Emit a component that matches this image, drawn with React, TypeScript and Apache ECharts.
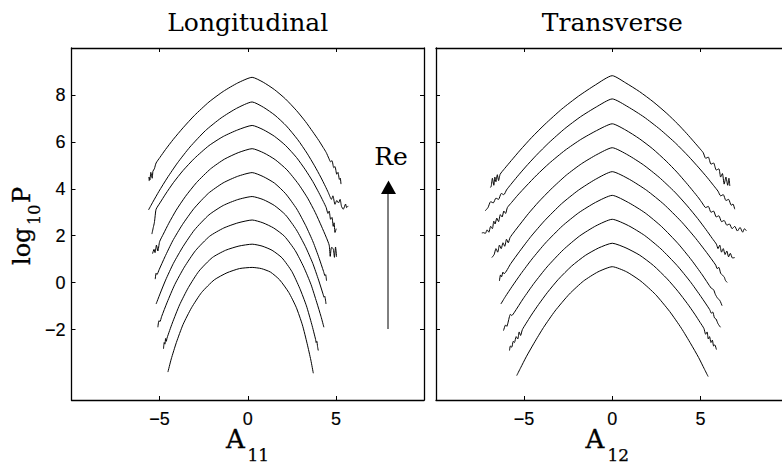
import React, { useEffect, useRef } from "react";
import * as echarts from "echarts";

type Pt = [number, number];

// Panel titles and axis ticks
const panelTitles = ["Longitudinal", "Transverse"];
const xTickValues = [-5, 0, 5];
const yTickValues = [-2, 0, 2, 4, 6, 8];
const xRange: [number, number] = [-10, 10];
const yRange: [number, number] = [-5, 10];

// Longitudinal gradient PDFs, log10 P, each Re shifted up by one decade
const long0: Pt[] = [
  [-4.53, -3.81], [-4.34, -3.25], [-4.05, -2.55], [-3.67, -1.78], [-3.19, -1.07], [-2.62, -0.42],
  [-1.9, 0.12], [-1.18, 0.42], [-0.47, 0.6], [0.25, 0.65], [0.77, 0.6], [1.29, 0.45], [1.81, 0.12],
  [2.33, -0.42], [2.75, -1.05], [3.1, -1.8], [3.37, -2.6], [3.58, -3.3], [3.72, -3.86],
];
const long1: Pt[] = [
  [-4.78, -2.82], [-4.74, -2.55], [-4.7, -2.62], [-4.66, -2.38], [-4.62, -2.5], [-4.58, -2.36],
  [-4.28, -1.72], [-3.87, -0.95], [-3.37, -0.21], [-2.77, 0.49], [-2.01, 1.07], [-1.26, 1.38],
  [-0.5, 1.56], [0.25, 1.64], [0.81, 1.56], [1.38, 1.38], [1.94, 1.06], [2.5, 0.48], [2.95, -0.24],
  [3.33, -0.99], [3.63, -1.77], [3.85, -2.42], [3.88, -2.55], [3.92, -2.5], [3.96, -2.72], [4.0, -2.89],
];
const long2: Pt[] = [
  [-5.1, -1.9], [-5.04, -1.62], [-4.98, -1.66], [-4.89, -1.45], [-4.57, -0.83], [-4.14, -0.08],
  [-3.6, 0.66], [-2.96, 1.37], [-2.16, 1.98], [-1.36, 2.33], [-0.55, 2.55], [0.25, 2.67], [0.86, 2.55],
  [1.47, 2.33], [2.08, 1.98], [2.69, 1.37], [3.18, 0.66], [3.59, -0.08], [3.91, -0.83], [4.16, -1.45],
  [4.32, -1.9],
];
const long3: Pt[] = [
  [-5.2, -0.91], [-4.98, -0.48], [-4.66, 0.11], [-4.22, 0.82], [-3.67, 1.54], [-3.02, 2.25],
  [-2.2, 2.89], [-1.39, 3.29], [-0.57, 3.54], [0.25, 3.67], [0.88, 3.54], [1.51, 3.29], [2.14, 2.89],
  [2.76, 2.25], [3.27, 1.54], [3.69, 0.82], [4.02, 0.11], [4.27, -0.48], [4.33, -0.62], [4.37, -0.58],
  [4.44, -0.91],
];
const long4: Pt[] = [
  [-5.25, 0.15], [-5.2, 0.4], [-5.15, 0.35], [-5.03, 0.55], [-4.7, 1.1], [-4.26, 1.78], [-3.71, 2.47],
  [-3.05, 3.16], [-2.23, 3.81], [-1.4, 4.25], [-0.58, 4.53], [0.25, 4.69], [0.88, 4.52], [1.52, 4.24],
  [2.15, 3.79], [2.78, 3.14], [3.29, 2.43], [3.71, 1.73], [4.05, 1.04], [4.3, 0.48], [4.38, 0.3],
  [4.42, 0.34], [4.47, 0.08],
];
const long5: Pt[] = [
  [-5.4, 1.24], [-5.32, 1.42], [-5.26, 1.28], [-5.18, 1.6], [-5.1, 1.35], [-5.0, 1.75], [-4.79, 2.07],
  [-4.48, 2.53], [-4.06, 3.09], [-3.53, 3.68], [-2.9, 4.27], [-2.11, 4.85], [-1.33, 5.26], [-0.54, 5.54],
  [0.25, 5.71], [0.91, 5.53], [1.56, 5.24], [2.22, 4.81], [2.87, 4.21], [3.4, 3.6], [3.83, 2.99],
  [4.18, 2.41], [4.45, 1.94], [4.62, 1.6], [4.68, 1.12], [4.75, 1.5], [4.85, 1.45], [4.92, 1.08],
  [4.98, 1.52], [5.04, 1.1],
];
const long6: Pt[] = [
  [-5.44, 2.07], [-5.36, 2.35], [-5.3, 2.55], [-5.26, 2.8], [-5.2, 3.13], [-4.98, 3.4], [-4.66, 3.78],
  [-4.22, 4.26], [-3.67, 4.78], [-3.02, 5.3], [-2.2, 5.84], [-1.39, 6.23], [-0.57, 6.51], [0.25, 6.7],
  [0.88, 6.52], [1.51, 6.24], [2.14, 5.85], [2.77, 5.33], [3.27, 4.81], [3.69, 4.31], [4.03, 3.84],
  [4.28, 3.47], [4.45, 3.2], [4.55, 2.95], [4.62, 3.05], [4.7, 2.7], [4.78, 2.78], [4.85, 2.4],
  [4.9, 2.55], [4.95, 2.14], [5.02, 2.3],
];
const long7: Pt[] = [
  [-5.63, 3.1], [-5.39, 3.43], [-5.04, 3.89], [-4.57, 4.46], [-3.98, 5.11], [-3.28, 5.78], [-2.4, 6.48],
  [-1.51, 7.02], [-0.63, 7.43], [0.25, 7.7], [0.9, 7.47], [1.55, 7.13], [2.19, 6.68], [2.84, 6.09],
  [3.36, 5.52], [3.79, 4.98], [4.14, 4.5], [4.4, 4.11], [4.57, 3.84], [4.75, 3.55], [4.83, 3.7],
  [4.95, 3.34], [5.05, 3.5], [5.15, 3.4], [5.24, 3.55], [5.32, 3.25], [5.42, 3.13], [5.55, 3.35],
  [5.61, 3.2], [5.7, 3.27],
];
const long8: Pt[] = [
  [-5.59, 4.33], [-5.6, 4.5], [-5.55, 4.38], [-5.5, 4.7], [-5.42, 4.45], [-5.38, 4.75], [-5.3, 4.85],
  [-5.2, 5.1], [-4.98, 5.34], [-4.66, 5.68], [-4.22, 6.11], [-3.67, 6.6], [-3.02, 7.13], [-2.2, 7.7],
  [-1.39, 8.15], [-0.57, 8.51], [0.25, 8.75], [0.88, 8.54], [1.51, 8.23], [2.14, 7.83], [2.77, 7.33],
  [3.27, 6.87], [3.69, 6.43], [4.03, 6.06], [4.28, 5.76], [4.45, 5.55], [4.6, 5.3], [4.7, 5.15],
  [4.78, 5.2], [4.88, 4.9], [4.95, 4.95], [5.05, 4.62], [5.12, 4.7], [5.2, 4.4], [5.25, 4.45], [5.29, 4.2],
];

// Transverse gradient PDFs, same offsets
const trans0: Pt[] = [
  [-5.42, -3.96], [-5.2, -3.63], [-4.88, -3.16], [-4.44, -2.58], [-3.9, -1.91], [-3.25, -1.21],
  [-2.44, -0.49], [-1.63, 0.07], [-0.81, 0.46], [0, 0.68], [0.82, 0.46], [1.63, 0.06], [2.45, -0.5],
  [3.26, -1.23], [3.92, -1.94], [4.46, -2.61], [4.9, -3.19], [5.22, -3.67], [5.44, -4.0],
];
const trans1: Pt[] = [
  [-5.83, -2.89], [-5.78, -2.7], [-5.7, -2.75], [-5.62, -2.5], [-5.55, -2.55], [-5.45, -2.3],
  [-5.36, -2.4], [-5.28, -2.1], [-5.2, -2.25], [-5.1, -2.0], [-4.9, -1.75], [-4.59, -1.38],
  [-4.18, -0.93], [-3.67, -0.41], [-3.06, 0.14], [-2.3, 0.71], [-1.53, 1.16], [-0.77, 1.48], [0, 1.68],
  [0.78, 1.48], [1.56, 1.17], [2.34, 0.73], [3.12, 0.16], [3.74, -0.38], [4.26, -0.89], [4.68, -1.34],
  [4.99, -1.7], [5.2, -1.95], [5.3, -2.2], [5.38, -2.1], [5.45, -2.4], [5.52, -2.3], [5.6, -2.55],
  [5.68, -2.45], [5.75, -2.7], [5.82, -2.65], [5.91, -2.85],
];
const trans2: Pt[] = [
  [-6.17, -2.04], [-6.05, -1.8], [-5.98, -1.86], [-5.92, -1.72], [-5.78, -1.35], [-5.7, -1.4],
  [-5.55, -1.26], [-5.06, -0.69], [-4.44, -0.03], [-3.7, 0.67], [-2.78, 1.4], [-1.85, 1.99],
  [-0.93, 2.42], [0, 2.7], [0.92, 2.43], [1.84, 2.01], [2.76, 1.44], [3.68, 0.73], [4.42, 0.05],
  [5.03, -0.59], [5.53, -1.15], [5.62, -1.3], [5.7, -1.25], [5.8, -1.5], [5.89, -1.55], [6.0, -1.75],
  [6.14, -1.9],
];
const trans3: Pt[] = [
  [-6.32, -0.91], [-6.07, -0.6], [-5.69, -0.17], [-5.18, 0.38], [-4.55, 1.01], [-3.79, 1.69],
  [-2.84, 2.41], [-1.9, 2.98], [-0.95, 3.42], [0, 3.72], [0.93, 3.41], [1.87, 2.97], [2.8, 2.39],
  [3.74, 1.66], [4.49, 0.97], [5.11, 0.33], [5.61, -0.23], [5.75, -0.3], [5.85, -0.5], [5.98, -0.67],
  [6.1, -0.75], [6.23, -0.98],
];
const trans4: Pt[] = [
  [-6.4, 0.08], [-6.34, 0.33], [-6.28, 0.25], [-6.2, 0.45], [-6.14, 0.38], [-5.76, 0.81], [-5.25, 1.34],
  [-4.61, 1.97], [-3.84, 2.64], [-2.88, 3.36], [-1.92, 3.94], [-0.96, 4.4], [0, 4.73], [0.98, 4.4],
  [1.96, 3.93], [2.93, 3.34], [3.91, 2.61], [4.69, 1.93], [5.35, 1.29], [5.87, 0.75], [5.95, 0.6],
  [6.05, 0.65], [6.15, 0.4], [6.26, 0.31], [6.35, 0.25], [6.42, 0.1], [6.52, 0.01],
];
const trans5: Pt[] = [
  [-6.83, 1.07], [-6.7, 1.2], [-6.6, 1.45], [-6.5, 1.3], [-6.4, 1.6], [-6.3, 1.45], [-6.2, 1.7],
  [-6.1, 1.55], [-6.0, 1.85], [-5.9, 1.7], [-5.8, 1.92], [-5.57, 2.16], [-5.22, 2.5], [-4.76, 2.94],
  [-4.18, 3.44], [-3.48, 3.98], [-2.61, 4.58], [-1.74, 5.07], [-0.87, 5.46], [0, 5.75], [0.89, 5.44],
  [1.77, 5.02], [2.66, 4.49], [3.55, 3.86], [4.26, 3.27], [4.85, 2.73], [5.32, 2.26], [5.67, 1.89],
  [5.91, 1.64], [6.0, 1.45], [6.1, 1.6], [6.2, 1.3], [6.3, 1.45], [6.4, 1.2], [6.5, 1.35], [6.6, 1.1],
  [6.7, 1.25], [6.82, 1.05], [6.95, 1.07],
];
const trans6: Pt[] = [
  [-7.4, 2.12], [-7.3, 2.13], [-7.2, 2.1], [-7.1, 2.25], [-7.0, 2.15], [-6.9, 2.4], [-6.8, 2.3],
  [-6.72, 2.62], [-6.65, 2.5], [-6.55, 2.75], [-6.45, 2.6], [-6.35, 2.9], [-6.25, 2.8], [-6.15, 3.05],
  [-6.05, 2.95], [-5.95, 3.2], [-5.71, 3.42], [-5.36, 3.73], [-4.88, 4.12], [-4.28, 4.59], [-3.57, 5.09],
  [-2.68, 5.64], [-1.79, 6.1], [-0.89, 6.48], [0, 6.77], [0.77, 6.5], [1.53, 6.14], [2.3, 5.7],
  [3.06, 5.18], [3.67, 4.71], [4.18, 4.27], [4.59, 3.9], [4.9, 3.61], [5.1, 3.4], [5.3, 3.2],
  [5.45, 3.25], [5.6, 3.0], [5.75, 3.05], [5.9, 2.8], [6.05, 2.85], [6.2, 2.6], [6.35, 2.65],
  [6.5, 2.45], [6.65, 2.5], [6.8, 2.3], [6.95, 2.4], [7.1, 2.2], [7.25, 2.35], [7.4, 2.15], [7.5, 2.3],
  [7.61, 2.21],
];
const trans7: Pt[] = [
  [-7.21, 3.06], [-7.05, 3.2], [-6.9, 3.45], [-6.75, 3.4], [-6.6, 3.6], [-6.45, 3.55], [-6.3, 3.8],
  [-6.15, 3.75], [-6.0, 3.95], [-5.76, 4.18], [-5.4, 4.51], [-4.92, 4.93], [-4.32, 5.42], [-3.6, 5.96],
  [-2.7, 6.56], [-1.8, 7.07], [-0.9, 7.49], [0, 7.83], [0.9, 7.49], [1.8, 7.06], [2.7, 6.54],
  [3.6, 5.94], [4.32, 5.39], [4.92, 4.89], [5.4, 4.47], [5.76, 4.13], [6.0, 3.9], [6.15, 3.7],
  [6.3, 3.75], [6.45, 3.5], [6.6, 3.55], [6.75, 3.3], [6.85, 3.35], [6.95, 3.13],
];
const trans8: Pt[] = [
  [-6.93, 4.05], [-6.87, 4.1], [-6.8, 4.45], [-6.72, 4.15], [-6.66, 4.5], [-6.6, 4.3], [-6.52, 4.6],
  [-6.45, 4.35], [-6.36, 4.62], [-6.11, 4.86], [-5.72, 5.21], [-5.22, 5.65], [-4.58, 6.18],
  [-3.82, 6.75], [-2.86, 7.4], [-1.91, 7.95], [-0.95, 8.43], [0, 8.82], [0.77, 8.51], [1.55, 8.14],
  [2.32, 7.71], [3.1, 7.21], [3.72, 6.76], [4.23, 6.35], [4.64, 6.0], [4.95, 5.73], [5.16, 5.54],
  [5.3, 5.3], [5.45, 5.35], [5.6, 5.05], [5.75, 5.1], [5.9, 4.8], [6.05, 4.85], [6.15, 4.5], [6.25, 4.65],
  [6.35, 4.2], [6.45, 4.5], [6.55, 4.15], [6.62, 4.45], [6.67, 4.12],
];

const longCurves = [long0, long1, long2, long3, long4, long5, long6, long7, long8];
const transCurves = [trans0, trans1, trans2, trans3, trans4, trans5, trans6, trans7, trans8];

const SERIF = "DejaVu Serif";
const SANS = "Liberation Sans";
const INK = "#000";

const tickText = (v: number) => (v < 0 ? "\u2212" + Math.abs(v) : String(v));

const tickLabelStyle = {
  color: INK,
  fontFamily: SANS,
  fontSize: 18,
  textBorderColor: INK,
  textBorderWidth: 0.15,
};

function xAxes(gridIndex: number) {
  const common = {
    type: "value" as const,
    gridIndex,
    min: xRange[0],
    max: xRange[1],
    interval: 5,
    splitLine: { show: false },
    axisLine: { show: true, onZero: false, lineStyle: { color: INK, width: 1.3 } },
    axisTick: { show: true, inside: true, length: 4, customValues: xTickValues, lineStyle: { color: INK, width: 1 } },
  };
  return [
    {
      ...common,
      position: "bottom",
      axisLabel: {
        show: true,
        customValues: xTickValues,
        margin: 10,
        ...tickLabelStyle,
        formatter: (v: number) => (Math.abs(v) === 10 ? "" : tickText(v)),
      },
    },
    { ...common, position: "top", axisLabel: { show: false } },
  ];
}

function yAxes(gridIndex: number, labelled: boolean) {
  const common = {
    type: "value" as const,
    gridIndex,
    min: yRange[0],
    max: yRange[1],
    splitLine: { show: false },
    axisLine: { show: true, onZero: false, lineStyle: { color: INK, width: 1.3 } },
    axisTick: { show: true, inside: true, length: 4, customValues: yTickValues, lineStyle: { color: INK, width: 1 } },
  };
  return [
    {
      ...common,
      position: "left",
      axisLabel: labelled
        ? { show: true, customValues: yTickValues, margin: 6, ...tickLabelStyle, formatter: tickText }
        : { show: false },
    },
    { ...common, position: "right", axisLabel: { show: false } },
  ];
}

function text(x: number, y: number, t: string, size: number, opts: any = {}) {
  const align = opts.align ?? "left";
  const heavy = opts.heavy ?? 0;
  return {
    type: "text",
    x,
    y,
    silent: true,
    style: {
      text: t,
      fill: INK,
      fontFamily: SERIF,
      fontSize: size,
      align,
      textAlign: align,
      verticalAlign: "middle",
      textVerticalAlign: "middle",
      ...(heavy ? { stroke: INK, lineWidth: heavy } : {}),
    },
  };
}

function buildOption() {
  const lineSeries = (curves: Pt[][], axisIndex: number) =>
    curves.map((d) => ({
      type: "line",
      xAxisIndex: axisIndex,
      yAxisIndex: axisIndex,
      data: d,
      symbol: "none",
      showSymbol: false,
      smooth: 0.2,
      silent: true,
      lineStyle: { color: INK, width: 1 },
    }));

  return {
    animation: false,
    backgroundColor: "#fff",
    grid: [
      { left: 71.5, top: 48, width: 352.5, height: 352, containLabel: false, outerBoundsMode: "none" },
      { left: 436, top: 48, width: 352.5, height: 352, containLabel: false, outerBoundsMode: "none" },
    ],
    xAxis: [...xAxes(0), ...xAxes(1)],
    yAxis: [...yAxes(0, true), ...yAxes(1, false)],
    series: [...lineSeries(longCurves, 0), ...lineSeries(transCurves, 2)],
    graphic: [
      text(247.7, 22, panelTitles[0], 25, { align: "center" }),
      text(612.3, 22, panelTitles[1], 25, { align: "center" }),
      // x-axis names with subscripts
      text(226, 439, "A", 26, { heavy: 0.35 }),
      text(247.5, 455, "11", 17, { heavy: 0.25 }),
      text(585.5, 439, "A", 26, { heavy: 0.35 }),
      text(607.5, 455, "12", 17, { heavy: 0.25 }),
      // y-axis name, read bottom to top
      {
        type: "group",
        x: 30,
        y: 265,
        rotation: Math.PI / 2,
        children: [
          text(0, -8.3, "log", 24, { heavy: 0.35 }),
          text(40, 4.5, "10", 16, { heavy: 0.25 }),
          text(62, -8.3, "P", 24, { heavy: 0.35 }),
        ],
      },
      // Reynolds-number arrow
      text(391, 156, "Re", 25, { align: "center" }),
      {
        type: "line",
        silent: true,
        shape: { x1: 388, y1: 329, x2: 388, y2: 193 },
        style: { stroke: INK, lineWidth: 1 },
      },
      {
        type: "polygon",
        silent: true,
        shape: { points: [[388.5, 180.5], [396, 194], [381, 194]] },
        style: { fill: INK },
      },
    ],
  };
}

export default function App() {
  const ref = useRef<HTMLDivElement>(null);
  useEffect(() => {
    if (!ref.current) return;
    const chart = echarts.init(ref.current, null, { renderer: "svg" });
    chart.setOption(buildOption() as any);
    return () => chart.dispose();
  }, []);
  return (
    <div
      ref={ref}
      style={{ position: "absolute", left: 0, top: 0, width: 782, height: 464, background: "#fff" }}
    />
  );
}
